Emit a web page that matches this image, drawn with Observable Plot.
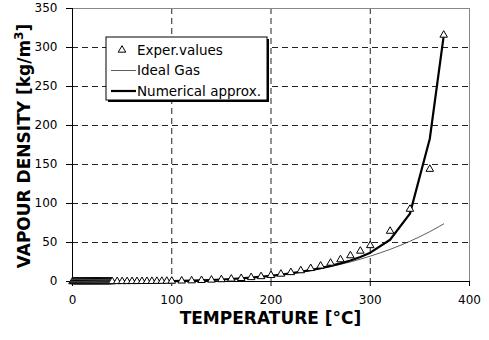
<!DOCTYPE html>
<html><head><meta charset="utf-8">
<script src="https://cdn.jsdelivr.net/npm/d3@7"></script>
<script src="https://cdn.jsdelivr.net/npm/@observablehq/plot@0.6"></script>
<style>body{margin:0;background:#fff}</style>
</head><body><div id="chart"></div>
<script>
// Experimental saturated vapour density values
const expT = [0,1,2,3,4,5,6,7,8,9,10,11,12,13,14,15,16,17,18,19,20,21,22,23,24,25,26,27,28,29,30,31,32,33,34,35,36,37,38,39,
  40,45,50,55,60,65,70,75,80,85,90,95,100,
  110,120,130,140,150,160,170,180,190,200,210,220,230,240,250,260,270,280,290,300,
  320,340,360,374];
const expRho = [0.005,0.005,0.006,0.006,0.006,0.007,0.007,0.008,0.008,0.009,0.009,0.010,0.011,0.011,0.012,0.013,0.014,0.015,0.015,0.016,0.017,0.018,0.019,0.021,0.022,0.023,0.024,0.026,0.027,0.029,0.030,0.032,0.034,0.036,0.038,0.040,0.042,0.044,0.046,0.049,
  0.05,0.07,0.08,0.10,0.13,0.16,0.20,0.24,0.29,0.35,0.42,0.50,0.60,
  0.83,1.1,1.5,2.0,2.5,3.3,4.1,5.2,6.4,7.9,9.6,11.6,14.0,16.8,20.0,23.7,28.1,33.2,39.1,46.2,
  64.6,92.8,144,316];
// Ideal gas curve
const idealT = [0,20,40,60,80,100,120,140,160,180,200,220,240,250,260,270,280,290,300,310,320,330,340,350,360,370,374];
const idealRho = [0.005,0.017,0.05,0.13,0.29,0.59,1.1,1.9,3.1,4.8,7.1,10.2,14.1,16.5,19.1,22.0,25.1,28.6,32.5,36.7,41.2,46.2,51.6,57.5,63.9,70.9,73.9];
// Numerical approximation curve
const numT = [0,20,40,60,80,100,120,140,160,180,200,220,240,250,260,270,280,290,300,320,340,360,374];
const numRho = [0.005,0.017,0.05,0.13,0.29,0.6,1.1,1.9,3.2,4.9,7.3,10.5,14.6,17.2,20.1,23.3,27.0,31.5,37.0,53.5,87,183,315];

const xTicks = [0,100,200,300,400];
const yTicks = [0,50,100,150,200,250,300,350];
const xGrid = [100,200,300];
const yGrid = [50,100,150,200,250,300];
const legendLabels = ["Exper.values","Ideal Gas","Numerical approx."];
const xLabel = "TEMPERATURE [°C]";
const yLabelMain = "VAPOUR DENSITY [kg/m";
const yLabelSup = "3";
const yLabelEnd = "]";

const expData = expT.map((t,i)=>({t, rho: expRho[i]}));
const idealData = idealT.map((t,i)=>({t, rho: idealRho[i]}));
const numData = numT.map((t,i)=>({t, rho: numRho[i]}));

const W = 489, H = 340;
const chart = Plot.plot({
  width: W, height: H,
  marginLeft: 72, marginRight: 20, marginTop: 8, marginBottom: 59,
  style: {fontFamily: "'DejaVu Sans', sans-serif", fontSize: "12px", background: "#fff", color: "#000"},
  x: {domain: [0,400]},
  y: {domain: [0,350]},
  marks: [
    Plot.gridX(xGrid, {stroke: "#222", strokeOpacity: 1, strokeDasharray: "6,4"}),
    Plot.gridY(yGrid, {stroke: "#222", strokeOpacity: 1, strokeDasharray: "6,4"}),
    Plot.frame({stroke: "#888"}),
    Plot.ruleX([0], {stroke: "#000"}),
    Plot.ruleY([0], {stroke: "#000"}),
    Plot.axisX(xTicks, {tickSize: 5, tickPadding: 9, label: null, fontSize: 12}),
    Plot.axisY(yTicks, {tickSize: 6, tickPadding: 9, label: null, fontSize: 12}),
    Plot.line(idealData, {x: "t", y: "rho", stroke: "#333", strokeWidth: 0.8}),
    Plot.line(numData, {x: "t", y: "rho", stroke: "#000", strokeWidth: 2.2}),
    Plot.dot(expData, {x: "t", y: "rho", symbol: "triangle", r: 2.8, stroke: "#000", fill: "#fff", strokeWidth: 1})
  ]
});
document.getElementById("chart").appendChild(chart);

const svg = d3.select(chart);
const fnt = "'DejaVu Sans', sans-serif";
// Axis titles
svg.append("text").attr("x", 270.5).attr("y", 323.5).attr("text-anchor", "middle")
  .attr("font-family", fnt).attr("font-weight", "bold").attr("font-size", 17)
  .text(xLabel);
const yl = svg.append("text").attr("transform", "translate(30,146) rotate(-90)").attr("text-anchor", "middle")
  .attr("font-family", fnt).attr("font-weight", "bold").attr("font-size", 17);
yl.append("tspan").text(yLabelMain);
yl.append("tspan").attr("dy", -7).attr("font-size", 12).text(yLabelSup);
yl.append("tspan").attr("dy", 7).text(yLabelEnd);

// Legend
const lg = svg.append("g").attr("text-anchor", "start");
lg.append("rect").attr("x", 108).attr("y", 39).attr("width", 161).attr("height", 63).attr("fill", "#000");
lg.append("rect").attr("x", 106).attr("y", 37).attr("width", 161).attr("height", 63).attr("fill", "#fff").attr("stroke", "#000").attr("stroke-width", 1);
const rows = [50, 70.5, 91];
lg.append("path").attr("d", d3.symbol(d3.symbolTriangle, Math.PI*2.8*2.8)()).attr("transform", `translate(122,${rows[0]})`)
  .attr("fill", "#fff").attr("stroke", "#000");
lg.append("line").attr("x1", 111).attr("x2", 136).attr("y1", rows[1]).attr("y2", rows[1]).attr("stroke", "#333").attr("stroke-width", 0.8);
lg.append("line").attr("x1", 111).attr("x2", 136).attr("y1", rows[2]).attr("y2", rows[2]).attr("stroke", "#000").attr("stroke-width", 2.2);
legendLabels.forEach((s,i)=>{
  lg.append("text").attr("x", 137).attr("y", rows[i]).attr("dy", "0.35em").attr("text-anchor", "start")
    .attr("font-family", fnt).attr("font-size", 13.5).text(s);
});
</script></body></html>
